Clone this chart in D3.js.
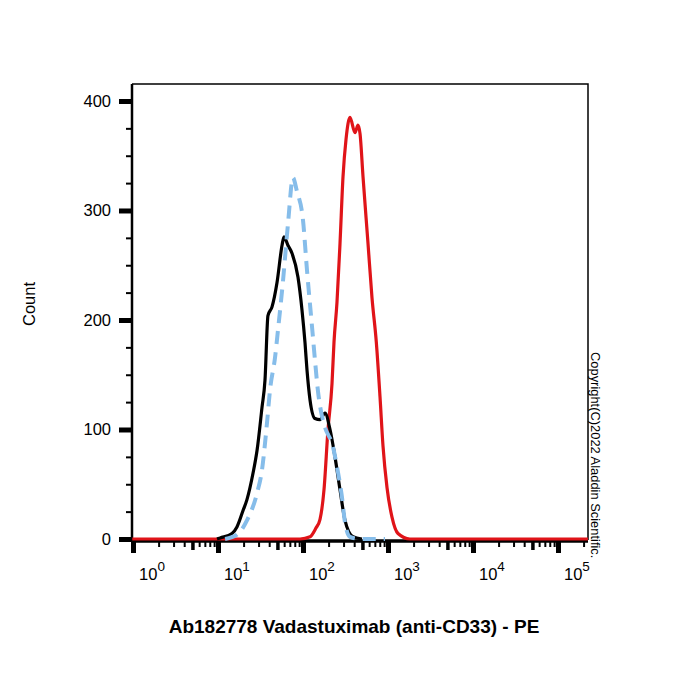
<!DOCTYPE html>
<html>
<head>
<meta charset="utf-8">
<script src="https://cdn.jsdelivr.net/npm/d3@7"></script>
<style>
  body { margin: 0; background: #fff; }
  svg { display: block; font-family: "Liberation Sans", Arial, sans-serif; }
</style>
</head>
<body>
<svg id="chart" width="700" height="700"></svg>
<script>
// ---- data ----
const blackX = [9.73, 10.6, 14.6, 16.7, 19.7, 21.9, 25.8, 28.8, 32.9, 35.7, 38.7, 43.2, 49.4, 56.6, 59.7, 66.6, 74.2, 87.3, 97.3, 105.6, 111.5, 120.9, 138.4, 158.5, 181.4, 207.9, 237.8, 272.5, 311.9, 387.3, 494];
const blackY = [0, 1, 5, 11, 26, 36, 60, 81, 120, 145, 204, 212, 234, 268, 276, 268, 261, 239, 209, 179, 154, 127, 110, 109, 115, 100, 75, 45, 17, 2, 0];

const blueX = [12.1, 16.7, 21.9, 28.8, 32.9, 37.7, 40.9, 46.9, 50.8, 58.2, 66.6, 76.2, 84.5, 100, 111.5, 127.6, 138.4, 150, 167.4, 181.4, 225.5, 251, 287.5, 311.9, 357, 469, 922];
const blueY = [0, 4, 17, 42, 63, 106, 136, 166, 191, 236, 288, 330, 318, 291, 245, 194, 163, 135, 112, 102, 84, 66, 38, 15, 2, 0, 0];

const redX = [0.98, 92.2, 121, 142, 158.5, 176.6, 196.8, 219.4, 231.6, 251, 272.5, 295.6, 320.6, 357, 409, 443.6, 469, 508, 581.6, 648.6, 728, 805, 873, 973, 1114, 1311, 1815, 225000];
const redY = [0, 0, 2, 10, 18, 45, 100, 142, 180, 216, 270, 331, 365, 385, 371, 378, 370, 331, 270, 220, 180, 130, 85, 47, 20, 5, 0, 0];

const yTickValues = [0, 100, 200, 300, 400];
const xDecades = [0, 1, 2, 3, 4, 5];
const xTitle = "Ab182778 Vadastuximab (anti-CD33) - PE";
const yTitle = "Count";
const copyright = "Copyright(C)2022 Aladdin Scientific.";

// ---- layout ----
const pL = 132, pR = 588, pT = 84, pB = 539;
const svg = d3.select("#chart");

const x = d3.scaleLog().domain([Math.pow(10, -0.012), Math.pow(10, 5.353)]).range([pL, pR]);
const y = d3.scaleLinear().domain([0, 415.5]).range([pB, pT]);

// frame (top + right thin)
svg.append("path")
  .attr("d", `M${pL},${pT}H${pR}V${pB + 1}`)
  .attr("fill", "none").attr("stroke", "#000").attr("stroke-width", 1.5);

// y axis
const yMinor = d3.range(0, 401, 25);
const yAxis = svg.append("g").attr("transform", `translate(${pL},0)`)
  .call(d3.axisLeft(y).tickValues(yMinor).tickSizeOuter(0).tickSize(13).tickPadding(8)
    .tickFormat(d => yTickValues.includes(d) ? d : ""));
yAxis.select(".domain").attr("stroke-width", 2.5).attr("d", `M0,${pT}V${pB + 3}`);
yAxis.selectAll(".tick line")
  .attr("x2", d => yTickValues.includes(d) ? -13 : -6)
  .attr("stroke-width", d => yTickValues.includes(d) ? 5 : 2);
yAxis.selectAll(".tick text").attr("font-size", 16.5).attr("font-family", "Liberation Sans, Arial, sans-serif").attr("fill", "#000");

// x axis
const xTicks = x.ticks();
const mant = d => d / Math.pow(10, Math.floor(Math.log10(d) + 1e-9));
const xAxis = svg.append("g").attr("transform", `translate(0,${pB + 2})`)
  .call(d3.axisBottom(x).tickValues(xTicks).tickSizeOuter(0).tickFormat(""));
xAxis.select(".domain").attr("stroke-width", 3.5).attr("d", `M${pL},0H${pR}`);
xAxis.selectAll(".tick line")
  .attr("y2", d => { const m = mant(d); return Math.abs(m - 1) < 1e-6 ? 12 : (Math.abs(m - 5) < 1e-6 ? 9 : 6); })
  .attr("stroke-width", d => { const m = mant(d); return Math.abs(m - 1) < 1e-6 ? 5 : (Math.abs(m - 5) < 1e-6 ? 3.5 : 2); });

// x tick labels 10^n
xDecades.forEach(k => {
  const t = svg.append("text")
    .attr("x", x(Math.pow(10, k)) + 6)
    .attr("y", 580)
    .attr("font-size", 16.5)
    .attr("fill", "#000");
  t.append("tspan").text("10");
  t.append("tspan").attr("dy", -9).attr("font-size", 13.5).text(k);
});

// curves
const line = d3.line().x(d => x(d[0])).y(d => y(d[1])).curve(d3.curveMonotoneX);
const zip = (a, b) => a.map((v, i) => [v, b[i]]);

svg.append("path").datum(zip(redX, redY))
  .attr("d", line).attr("fill", "none").attr("stroke", "#E01419").attr("stroke-width", 3.2)
  .attr("stroke-linejoin", "round");
svg.append("path").datum(zip(blackX, blackY))
  .attr("d", line).attr("fill", "none").attr("stroke", "#000").attr("stroke-width", 3.2)
  .attr("stroke-linejoin", "round");
svg.append("path").datum(zip(blueX, blueY))
  .attr("d", line).attr("fill", "none").attr("stroke", "#86BDEA").attr("stroke-width", 4)
  .attr("stroke-dasharray", "13,8");

// titles
svg.append("text").attr("x", 354).attr("y", 633).attr("text-anchor", "middle")
  .attr("font-size", 19).attr("font-weight", "bold").attr("fill", "#000").text(xTitle);
svg.append("text").attr("transform", "translate(35,304) rotate(-90)").attr("text-anchor", "middle")
  .attr("font-size", 16.5).attr("fill", "#000").text(yTitle);
svg.append("text").attr("transform", "translate(591,352) rotate(90)")
  .attr("font-size", 12.9).attr("fill", "#000").text(copyright);
</script>
</body>
</html>
